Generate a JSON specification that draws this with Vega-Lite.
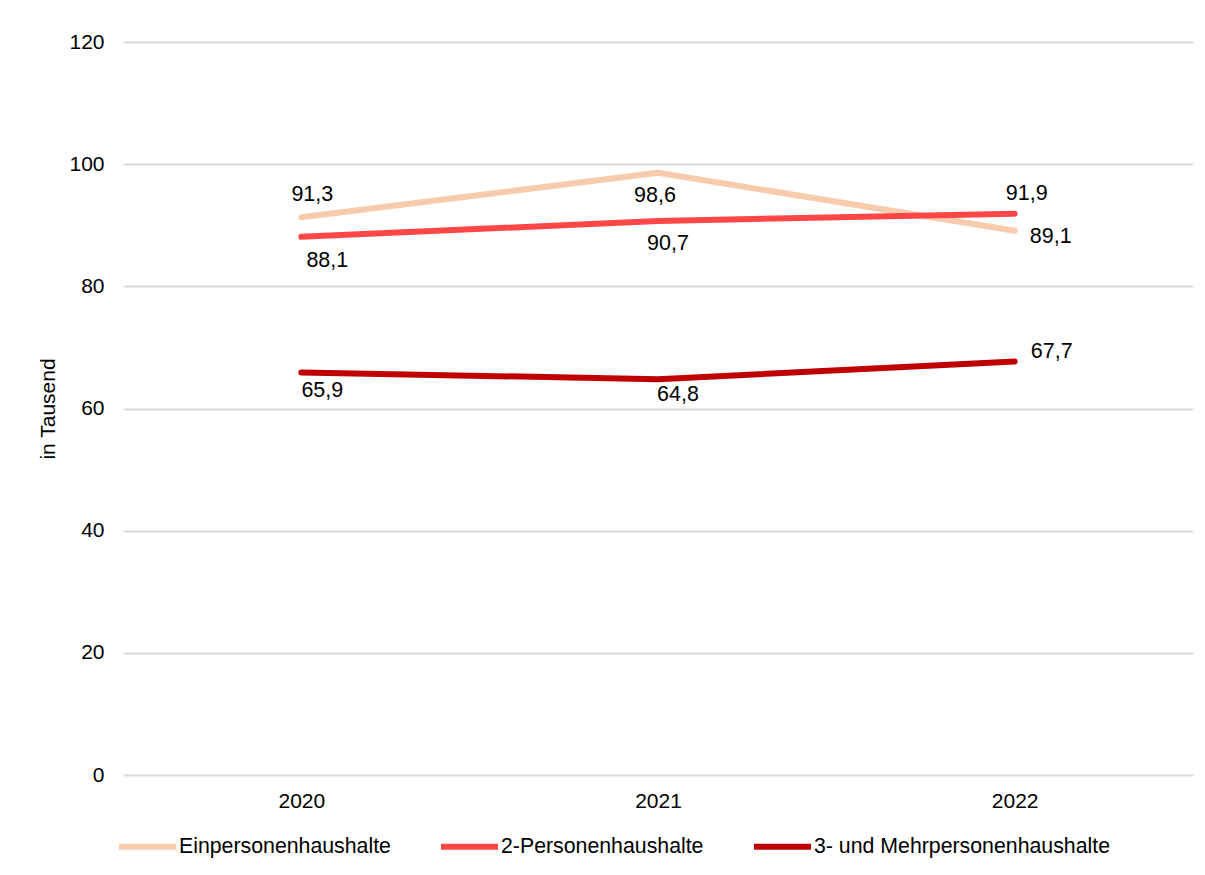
{
  "$schema": "https://vega.github.io/schema/vega-lite/v6.json",
  "width": 1070,
  "height": 733,
  "autosize": {"type": "none"},
  "padding": {"left": 123, "top": 42, "right": 12, "bottom": 100},
  "background": "white",
  "config": {
    "font": "Liberation Sans",
    "view": {"stroke": null},
    "locale": {"number": {"decimal": ",", "thousands": ".", "grouping": [3], "currency": ["", " €"]}},
    "text": {"font": "Liberation Sans"}
  },
  "data": {
    "values": [
      {"year": "2020", "series": "Einpersonenhaushalte", "value": 91.3},
      {"year": "2021", "series": "Einpersonenhaushalte", "value": 98.6},
      {"year": "2022", "series": "Einpersonenhaushalte", "value": 89.1},
      {"year": "2020", "series": "2-Personenhaushalte", "value": 88.1},
      {"year": "2021", "series": "2-Personenhaushalte", "value": 90.7},
      {"year": "2022", "series": "2-Personenhaushalte", "value": 91.9},
      {"year": "2020", "series": "3- und Mehrpersonenhaushalte", "value": 65.9},
      {"year": "2021", "series": "3- und Mehrpersonenhaushalte", "value": 64.8},
      {"year": "2022", "series": "3- und Mehrpersonenhaushalte", "value": 67.7}
    ]
  },
  "encoding": {
    "x": {
      "field": "year", "type": "ordinal",
      "scale": {"type": "point", "padding": 0.5},
      "axis": {"title": null, "labelAngle": 0, "labelFontSize": 21, "labelColor": "#000000", "ticks": false, "domain": false, "labelPadding": 15, "grid": false}
    },
    "y": {
      "field": "value", "type": "quantitative",
      "scale": {"domain": [0, 120], "nice": false},
      "axis": {"title": "in Tausend", "titleFontSize": 21, "titleFontWeight": "normal", "titleColor": "#000000", "titlePadding": 10,
        "values": [0, 20, 40, 60, 80, 100, 120], "labelFontSize": 21, "labelColor": "#000000", "labelPadding": 19,
        "ticks": false, "domain": false, "grid": true, "gridColor": "#d9d9d9", "gridWidth": 2}
    }
  },
  "layer": [
    {
      "mark": {"type": "line", "strokeWidth": 6, "strokeCap": "round", "strokeJoin": "round"},
      "encoding": {
        "color": {
          "field": "series", "type": "nominal",
          "scale": {"domain": ["Einpersonenhaushalte", "2-Personenhaushalte", "3- und Mehrpersonenhaushalte"], "range": ["#F8CBAD", "#FF4747", "#C00000"]},
          "legend": {"title": null, "orient": "none", "direction": "horizontal", "legendX": -7, "legendY": 773,
            "symbolType": "stroke", "symbolSize": 3249, "symbolStrokeWidth": 6, "labelFontSize": 21.3, "labelColor": "#000000",
            "labelOffset": 0, "columnPadding": 38, "labelLimit": 0}
        }
      }
    },
    {"transform": [{"filter": "datum.series == 'Einpersonenhaushalte' && datum.year == '2020'"}], "mark": {"type": "text", "fontSize": 21.5, "dx": 11, "dy": -22, "baseline": "middle"}, "encoding": {"text": {"field": "value", "format": ".1f"}}},
    {"transform": [{"filter": "datum.series == 'Einpersonenhaushalte' && datum.year == '2021'"}], "mark": {"type": "text", "fontSize": 21.5, "dx": -3, "dy": 23, "baseline": "middle"}, "encoding": {"text": {"field": "value", "format": ".1f"}}},
    {"transform": [{"filter": "datum.series == 'Einpersonenhaushalte' && datum.year == '2022'"}], "mark": {"type": "text", "fontSize": 21.5, "dx": 36, "dy": 6, "baseline": "middle"}, "encoding": {"text": {"field": "value", "format": ".1f"}}},
    {"transform": [{"filter": "datum.series == '2-Personenhaushalte' && datum.year == '2020'"}], "mark": {"type": "text", "fontSize": 21.5, "dx": 26, "dy": 24, "baseline": "middle"}, "encoding": {"text": {"field": "value", "format": ".1f"}}},
    {"transform": [{"filter": "datum.series == '2-Personenhaushalte' && datum.year == '2021'"}], "mark": {"type": "text", "fontSize": 21.5, "dx": 10, "dy": 23, "baseline": "middle"}, "encoding": {"text": {"field": "value", "format": ".1f"}}},
    {"transform": [{"filter": "datum.series == '2-Personenhaushalte' && datum.year == '2022'"}], "mark": {"type": "text", "fontSize": 21.5, "dx": 12, "dy": -20, "baseline": "middle"}, "encoding": {"text": {"field": "value", "format": ".1f"}}},
    {"transform": [{"filter": "datum.series == '3- und Mehrpersonenhaushalte' && datum.year == '2020'"}], "mark": {"type": "text", "fontSize": 21.5, "dx": 21, "dy": 19, "baseline": "middle"}, "encoding": {"text": {"field": "value", "format": ".1f"}}},
    {"transform": [{"filter": "datum.series == '3- und Mehrpersonenhaushalte' && datum.year == '2021'"}], "mark": {"type": "text", "fontSize": 21.5, "dx": 20, "dy": 16, "baseline": "middle"}, "encoding": {"text": {"field": "value", "format": ".1f"}}},
    {"transform": [{"filter": "datum.series == '3- und Mehrpersonenhaushalte' && datum.year == '2022'"}], "mark": {"type": "text", "fontSize": 21.5, "dx": 37, "dy": -9, "baseline": "middle"}, "encoding": {"text": {"field": "value", "format": ".1f"}}}
  ]
}
